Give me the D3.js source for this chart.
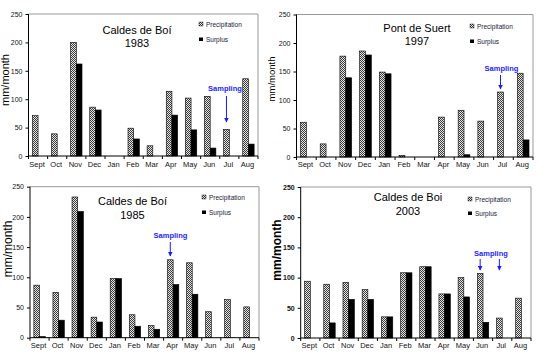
<!DOCTYPE html>
<html><head><meta charset="utf-8">
<script src="https://cdn.jsdelivr.net/npm/d3@7"></script>
<style>html,body{margin:0;padding:0;background:#fff;} svg{display:block;font-family:"Liberation Sans",Arial,sans-serif;}</style>
</head><body>
<script>
// ---------- DATA ----------
const months = ["Sept","Oct","Nov","Dec","Jan","Feb","Mar","Apr","May","Jun","Jul","Aug"];
const yTicks = [0,50,100,150,200,250];
const seriesNames = ["Precipitation","Surplus"];

const precip1983  = [71, 39, 200, 86, 0, 49, 18, 114, 102, 105, 47, 136];
const surplus1983 = [0, 0, 162, 81, 0, 30, 0, 72, 46, 14, 0, 21];

const precip1997  = [61, 23, 177, 186, 149, 3, 0, 70, 82, 63, 114, 147];
const surplus1997 = [0, 0, 139, 179, 146, 0, 0, 0, 4, 0, 0, 30];

const precip1985  = [87, 75, 233, 34, 98, 38, 20, 129, 124, 43, 63, 51];
const surplus1985 = [2, 29, 209, 26, 98, 19, 14, 88, 72, 0, 0, 0];

const precip2003  = [94, 89, 92, 80, 35, 108, 118, 73, 100, 107, 33, 66];
const surplus2003 = [0, 25, 64, 64, 35, 108, 118, 73, 68, 26, 0, 0];

// ---------- LAYOUT ----------
const panels = [
  {site:"Caldes de Boí", year:"1983", p:precip1983, s:surplus1983,
   l:28.5, t:14, r:258, b:156, sampling:["Jul"], sampleText:[225,88],
   arrowTop:96, arrowBot:122, title:[137,30,43], legend:[201,24,39],
   ylab:[5,80,11], monthY:166.5},
  {site:"Pont de Suert", year:"1997", p:precip1997, s:surplus1997,
   l:296.5, t:14.5, r:533, b:157, sampling:["Jul"], sampleText:[501.5,68],
   arrowTop:75, arrowBot:89, title:[417,28,41], legend:[472,26,41],
   ylab:[271.5,79,9.5], monthY:167},
  {site:"Caldes de Boí", year:"1985", p:precip1985, s:surplus1985,
   l:30, t:186.7, r:259, b:337.7, sampling:["Apr"], sampleText:[170.5,235],
   arrowTop:242, arrowBot:256, title:[132.5,201,215], legend:[204,197,212],
   ylab:[7.5,249,12], monthY:348},
  {site:"Caldes de Boi", year:"2003", p:precip2003, s:surplus2003,
   l:300.7, t:187, r:531, b:338, sampling:["Jun","Jul"], sampleText:[491,253],
   arrowTop:259, arrowBot:270, title:[408,197,211], legend:[470,199,213],
   ylab:[277,250,12], monthY:348, bold:true}
];

const svg = d3.select("body").append("svg").attr("width",546).attr("height",358);
const defs = svg.append("defs");
const pat = defs.append("pattern").attr("id","checker").attr("patternUnits","userSpaceOnUse")
  .attr("width",2).attr("height",2);
pat.append("rect").attr("width",2).attr("height",2).attr("fill","#e6e6e6");
pat.append("rect").attr("width",1).attr("height",1).attr("fill","#3a3a3a");
pat.append("rect").attr("x",1).attr("y",1).attr("width",1).attr("height",1).attr("fill","#3a3a3a");

const mk = defs.append("marker").attr("id","arr").attr("viewBox","0 0 10 10")
  .attr("refX",9).attr("refY",5).attr("markerWidth",5).attr("markerHeight",5)
  .attr("markerUnits","userSpaceOnUse").attr("orient","auto");
mk.append("path").attr("d","M0,0L10,5L0,10Z").attr("fill","#1a1aff");

panels.forEach(P => {
  const g = svg.append("g");
  const x0 = d3.scaleBand().domain(months).range([P.l, P.r]).padding(0);
  const x1 = d3.scaleBand().domain(seriesNames).range([0, x0.bandwidth()]).paddingInner(0).paddingOuter(0.68);
  const y = d3.scaleLinear().domain([0,250]).range([P.b, P.t]);

  // border top/right
  g.append("path").attr("d",`M${P.l},${P.t}H${P.r}V${P.b}`).attr("fill","none")
   .attr("stroke","#9a9a9a").attr("stroke-width",1);

  // bars
  months.forEach((m,i) => {
    const vals = [P.p[i], P.s[i]];
    vals.forEach((v,k) => {
      if (v <= 0) return;
      const xx = x0(m) + x1(seriesNames[k]);
      g.append("rect").attr("x",xx).attr("y",y(v)).attr("width",x1.bandwidth())
       .attr("height",y(0)-y(v))
       .attr("fill", k===0 ? "url(#checker)" : "#000")
       .attr("stroke","#000").attr("stroke-width",0.6);
    });
  });

  // y axis
  const ya = d3.axisLeft(y).tickValues(yTicks).tickSize(3).tickPadding(3);
  const yg = g.append("g").attr("transform",`translate(${P.l},0)`).call(ya);
  yg.selectAll("text").attr("font-size",7).attr("fill","#111")
    .attr("font-weight",P.bold?"bold":"normal").attr("font-family","Liberation Sans, Arial, sans-serif");
  yg.select(".domain").attr("d",`M0,${P.t}V${P.b}`);

  // x axis
  g.append("line").attr("x1",P.l).attr("x2",P.r).attr("y1",P.b).attr("y2",P.b).attr("stroke","#000");
  const bounds = months.map(m => x0(m)).concat([P.r]);
  bounds.forEach(bx => g.append("line").attr("x1",bx).attr("x2",bx).attr("y1",P.b).attr("y2",P.b+3).attr("stroke","#000"));
  months.forEach(m => g.append("text").attr("x",x0(m)+x0.bandwidth()/2-1).attr("y",P.monthY)
    .attr("text-anchor","middle").attr("font-size",7.5).attr("fill","#111").text(m));

  // y label
  g.append("text").attr("transform",`translate(${P.ylab[0]},${P.ylab[1]}) rotate(-90)`)
   .attr("text-anchor","middle").attr("dominant-baseline","central")
   .attr("font-size",P.ylab[2]).attr("font-weight",P.bold?"bold":"normal").attr("fill","#000").text("mm/month");

  // title
  g.append("text").attr("x",P.title[0]).attr("y",P.title[1]).attr("text-anchor","middle")
   .attr("dominant-baseline","central").attr("font-size",11).attr("fill","#000").text(P.site);
  g.append("text").attr("x",P.title[0]).attr("y",P.title[2]).attr("text-anchor","middle")
   .attr("dominant-baseline","central").attr("font-size",11).attr("fill","#000").text(P.year);

  // legend
  const [lx, ly1, ly2] = P.legend;
  g.append("rect").attr("x",lx-2).attr("y",ly1-2).attr("width",4).attr("height",4)
   .attr("fill","url(#checker)").attr("stroke","#000").attr("stroke-width",0.4);
  g.append("text").attr("x",lx+5).attr("y",ly1).attr("dominant-baseline","central")
   .attr("font-size",6.5).attr("fill","#1a1a3a").text(seriesNames[0]);
  g.append("rect").attr("x",lx-2).attr("y",ly2-1.5).attr("width",4).attr("height",3.5).attr("fill","#000");
  g.append("text").attr("x",lx+5).attr("y",ly2).attr("dominant-baseline","central")
   .attr("font-size",6.5).attr("fill","#1a1a3a").text(seriesNames[1]);

  // sampling
  g.append("text").attr("x",P.sampleText[0]).attr("y",P.sampleText[1]).attr("text-anchor","middle")
   .attr("dominant-baseline","central").attr("font-size",7.5).attr("font-weight","bold")
   .attr("fill","#2323ff").text("Sampling");
  P.sampling.forEach(m => {
    const ax = x0(m) + x1("Precipitation") + x1.bandwidth()/2;
    g.append("line").attr("x1",ax).attr("x2",ax).attr("y1",P.arrowTop).attr("y2",P.arrowBot)
     .attr("stroke","#1a1aff").attr("stroke-width",1).attr("marker-end","url(#arr)");
  });
});
</script>
</body></html>
